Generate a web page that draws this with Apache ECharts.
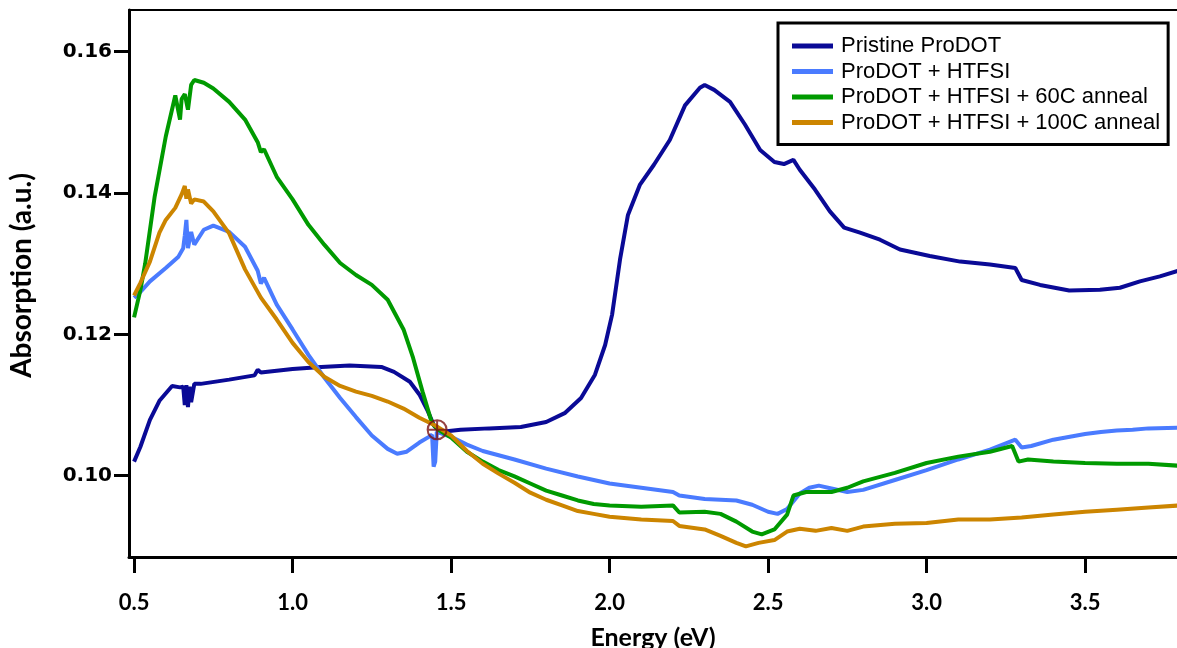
<!DOCTYPE html>
<html>
<head>
<meta charset="utf-8">
<script src="https://cdn.jsdelivr.net/npm/echarts@6/dist/echarts.min.js"></script>
<style>
  html, body { margin: 0; padding: 0; background: #fff; }
  #chart { width: 1177px; height: 648px; }
</style>
</head>
<body>
<div id="chart"></div>
<script>
// Absorption spectra, [energy (eV), absorption (a.u.)]
const seriesNames = [
  'Pristine ProDOT',
  'ProDOT + HTFSI',
  'ProDOT + HTFSI + 60C anneal',
  'ProDOT + HTFSI + 100C anneal'
];

const pristine = [
  [0.50,0.1020],[0.52,0.1041],[0.55,0.1079],[0.58,0.1106],[0.62,0.1127],[0.645,0.1125],
  [0.655,0.1126],[0.66,0.1100],[0.665,0.1128],[0.67,0.1097],[0.675,0.1126],[0.68,0.1104],
  [0.69,0.1130],[0.71,0.1130],[0.80,0.1136],[0.88,0.1142],[0.89,0.1150],[0.90,0.1146],
  [1.00,0.1151],[1.09,0.1154],[1.18,0.1156],[1.28,0.1154],[1.32,0.1147],[1.37,0.1133],
  [1.40,0.1115],[1.427,0.1091],[1.446,0.1071],[1.465,0.1062],[1.53,0.1065],[1.62,0.1067],
  [1.72,0.1069],[1.80,0.1076],[1.86,0.1089],[1.91,0.1110],[1.954,0.1143],[1.986,0.1185],
  [2.008,0.1228],[2.033,0.1306],[2.058,0.1369],[2.096,0.1412],[2.14,0.1440],[2.19,0.1475],
  [2.238,0.1524],[2.285,0.1549],[2.30,0.1553],[2.33,0.1546],[2.38,0.1529],[2.427,0.1497],
  [2.475,0.1461],[2.52,0.1444],[2.55,0.1441],[2.58,0.1447],[2.60,0.1433],[2.648,0.1405],
  [2.695,0.1374],[2.74,0.1351],[2.79,0.1344],[2.853,0.1334],[2.916,0.1320],[3.01,0.1311],
  [3.106,0.1303],[3.20,0.1299],[3.28,0.1294],[3.30,0.1277],[3.358,0.1270],[3.45,0.1262],
  [3.547,0.1263],[3.61,0.1266],[3.673,0.1275],[3.736,0.1282],[3.80,0.1291]
];

const htfsi = [
  [0.50,0.1252],[0.52,0.1260],[0.55,0.1275],[0.60,0.1294],[0.64,0.1310],[0.655,0.1322],
  [0.66,0.1340],[0.665,0.1362],[0.67,0.1322],[0.68,0.1345],[0.69,0.1327],[0.72,0.1348],
  [0.75,0.1354],[0.80,0.1345],[0.85,0.1324],[0.89,0.1290],[0.90,0.1272],[0.91,0.1280],
  [0.95,0.1242],[1.00,0.1207],[1.05,0.1171],[1.10,0.1139],[1.15,0.1110],[1.20,0.1083],
  [1.25,0.1057],[1.30,0.1038],[1.33,0.1031],[1.36,0.1034],[1.40,0.1047],[1.43,0.1055],
  [1.44,0.1058],[1.445,0.1013],[1.45,0.1020],[1.455,0.1062],[1.50,0.1055],[1.55,0.1044],
  [1.60,0.1035],[1.70,0.1023],[1.80,0.1010],[1.90,0.0999],[2.00,0.0989],[2.10,0.0983],
  [2.20,0.0977],[2.22,0.0972],[2.30,0.0967],[2.40,0.0965],[2.45,0.0959],[2.50,0.0949],
  [2.53,0.0946],[2.56,0.0953],[2.60,0.0975],[2.63,0.0983],[2.66,0.0986],[2.70,0.0982],
  [2.75,0.0977],[2.80,0.0980],[2.90,0.0994],[3.00,0.1008],[3.10,0.1023],[3.20,0.1037],
  [3.28,0.1051],[3.30,0.1040],[3.33,0.1042],[3.40,0.1051],[3.50,0.1059],[3.55,0.1062],
  [3.60,0.1064],[3.65,0.1065],[3.70,0.1067],[3.80,0.1068]
];

const anneal60 = [
  [0.50,0.1224],[0.52,0.1263],[0.535,0.1300],[0.565,0.1395],[0.60,0.1480],[0.63,0.1538],
  [0.645,0.1504],[0.65,0.1533],[0.66,0.1540],[0.67,0.1518],[0.68,0.1553],[0.69,0.1560],
  [0.72,0.1556],[0.75,0.1548],[0.80,0.1529],[0.85,0.1504],[0.89,0.1472],[0.90,0.1458],
  [0.91,0.1462],[0.95,0.1423],[1.00,0.1391],[1.05,0.1355],[1.10,0.1327],[1.15,0.1301],
  [1.20,0.1284],[1.25,0.1270],[1.30,0.1249],[1.35,0.1207],[1.38,0.1167],[1.41,0.1119],
  [1.44,0.1074],[1.46,0.1065],[1.50,0.1054],[1.55,0.1034],[1.60,0.1020],[1.65,0.1008],
  [1.70,0.0999],[1.75,0.0989],[1.80,0.0979],[1.85,0.0972],[1.90,0.0965],[1.95,0.0960],
  [2.00,0.0958],[2.10,0.0956],[2.20,0.0958],[2.22,0.0948],[2.30,0.0949],[2.35,0.0946],
  [2.40,0.0935],[2.45,0.0921],[2.48,0.0917],[2.52,0.0924],[2.56,0.0945],[2.58,0.0972],
  [2.62,0.0977],[2.70,0.0977],[2.75,0.0983],[2.80,0.0992],[2.90,0.1004],[3.00,0.1018],
  [3.10,0.1027],[3.20,0.1034],[3.27,0.1042],[3.29,0.1020],[3.32,0.1023],[3.40,0.1020],
  [3.50,0.1018],[3.60,0.1017],[3.70,0.1017],[3.80,0.1014]
];

const anneal100 = [
  [0.50,0.1255],[0.52,0.1273],[0.55,0.1303],[0.58,0.1344],[0.60,0.1362],[0.63,0.1379],
  [0.65,0.1398],[0.66,0.1410],[0.665,0.1392],[0.67,0.1405],[0.68,0.1385],[0.69,0.1391],
  [0.72,0.1388],[0.75,0.1374],[0.80,0.1343],[0.85,0.1292],[0.90,0.1252],[0.95,0.1221],
  [1.00,0.1188],[1.05,0.1161],[1.10,0.1140],[1.15,0.1127],[1.20,0.1119],[1.25,0.1113],
  [1.30,0.1105],[1.35,0.1095],[1.40,0.1082],[1.45,0.1071],[1.50,0.1057],[1.55,0.1035],
  [1.60,0.1017],[1.65,0.1003],[1.70,0.0990],[1.75,0.0976],[1.80,0.0966],[1.85,0.0958],
  [1.90,0.0950],[1.95,0.0946],[2.00,0.0942],[2.10,0.0938],[2.20,0.0936],[2.22,0.0929],
  [2.30,0.0924],[2.35,0.0915],[2.40,0.0905],[2.43,0.0900],[2.47,0.0905],[2.52,0.0909],
  [2.56,0.0921],[2.60,0.0925],[2.65,0.0922],[2.70,0.0926],[2.75,0.0922],[2.80,0.0928],
  [2.90,0.0932],[3.00,0.0933],[3.10,0.0938],[3.20,0.0938],[3.30,0.0941],[3.40,0.0945],
  [3.50,0.0949],[3.60,0.0952],[3.70,0.0955],[3.80,0.0958]
];

// Isosbestic point marker
const isosbestic = [[1.456, 0.1065]];

const xTicks = [0.5, 1.0, 1.5, 2.0, 2.5, 3.0, 3.5];
const yTicks = [0.10, 0.12, 0.14, 0.16];

const colors = ['#0a0a96', '#4a7bff', '#009a00', '#cc8500'];

const chart = echarts.init(document.getElementById('chart'), null, { renderer: 'canvas' });

const allData = [pristine, htfsi, anneal60, anneal100];
const lineSeries = allData.map((d, i) => ({
  name: seriesNames[i],
  type: 'line',
  data: d,
  showSymbol: false,
  symbol: 'none',
  lineStyle: { color: colors[i], width: 4 },
  itemStyle: { color: colors[i] },
  clip: true,
  z: 2 + i
}));

const axisFont = 'Lato, "Open Sans", sans-serif';

chart.setOption({
  animation: false,
  backgroundColor: '#ffffff',
  grid: { left: 129, top: 10, right: 0, bottom: 91, containLabel: false, outerBoundsMode: 'none' },
  legend: {
    orient: 'vertical',
    left: 778,
    top: 23,
    data: seriesNames,
    icon: 'rect',
    itemWidth: 41,
    itemHeight: 5,
    itemGap: 3.5,
    padding: [12, 8, 11, 14],
    borderColor: '#000',
    borderWidth: 3,
    borderRadius: 0,
    backgroundColor: '#fff',
    textStyle: { fontFamily: '"Liberation Sans", Arial, sans-serif', fontSize: 22, color: '#000', padding: [0, 0, 0, 3] }
  },
  xAxis: [{
    type: 'value',
    min: 0.484,
    max: 3.79,
    name: 'Energy (eV)',
    nameLocation: 'middle',
    nameGap: 68,
    nameTextStyle: { fontFamily: axisFont, fontWeight: 'bold', fontSize: 25, color: '#000' },
    axisLine: { show: true, onZero: false, lineStyle: { color: '#000', width: 3 } },
    axisTick: { show: true, inside: false, length: 16, lineStyle: { color: '#000', width: 3 }, customValues: xTicks },
    axisLabel: {
      show: true, margin: 35, customValues: xTicks,
      fontFamily: axisFont, fontWeight: 'bold', fontSize: 22, color: '#000',
      formatter: v => v.toFixed(1)
    },
    splitLine: { show: false }
  }, {
    type: 'value',
    position: 'top',
    min: 0.484,
    max: 3.79,
    axisLine: { show: true, onZero: false, lineStyle: { color: '#000', width: 2 } },
    axisTick: { show: false },
    axisLabel: { show: false },
    splitLine: { show: false }
  }],
  yAxis: {
    type: 'value',
    min: 0.0885,
    max: 0.1659,
    name: 'Absorption (a.u.)',
    nameLocation: 'middle',
    nameGap: 93,
    nameRotate: 90,
    nameTextStyle: { fontFamily: axisFont, fontWeight: 'bold', fontSize: 28, color: '#000', padding: [0, 0, 0, 16] },
    axisLine: { show: true, onZero: false, lineStyle: { color: '#000', width: 3 } },
    axisTick: { show: true, inside: false, length: 15, lineStyle: { color: '#000', width: 3 }, customValues: yTicks },
    axisLabel: {
      show: true, margin: 17, customValues: yTicks,
      fontFamily: '"DejaVu Sans", Verdana, sans-serif', fontWeight: 'bold', fontSize: 20, color: '#000',
      formatter: v => v.toFixed(2)
    },
    splitLine: { show: false }
  },
  series: lineSeries.concat([{
    name: 'isosbestic',
    type: 'scatter',
    data: isosbestic,
    symbol: 'path://M0,10 A10,10 0 1,1 20,10 A10,10 0 1,1 0,10 Z M10,0 L10,20 M0,10 L20,10',
    symbolSize: 19,
    itemStyle: { color: 'rgba(0,0,0,0)', borderColor: '#7a1212', borderWidth: 2 },
    z: 10,
    silent: true
  }])
});
</script>
</body>
</html>
